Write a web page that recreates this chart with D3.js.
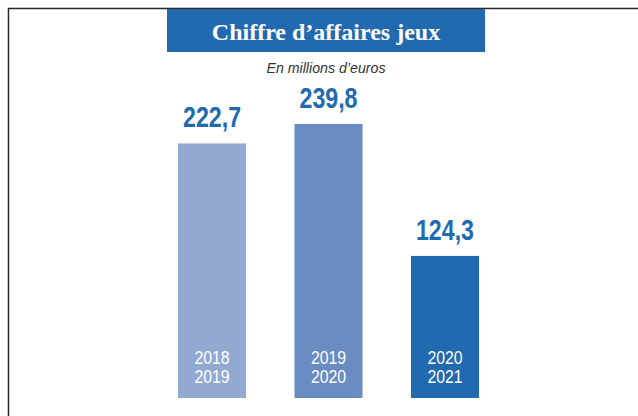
<!DOCTYPE html>
<html>
<head>
<meta charset="utf-8">
<script src="https://cdn.jsdelivr.net/npm/d3@7"></script>
<style>
  body { margin: 0; background: #fff; }
  svg { display: block; }
</style>
</head>
<body>
<div id="chart"></div>
<script>
// données du graphique
const seasons = ["2018-2019", "2019-2020", "2020-2021"];
const seasonLines = [["2018", "2019"], ["2019", "2020"], ["2020", "2021"]];
const revenue = [222.7, 239.8, 124.3];
const valueLabels = ["222,7", "239,8", "124,3"];
const barColors = ["#92aad2", "#6b8cc2", "#226aaf"];

const width = 638, height = 416;
const blue = "#226aaf";
const sans = "'Liberation Sans', Arial, sans-serif";

const svg = d3.select("#chart").append("svg")
    .attr("width", width)
    .attr("height", height);

// texte "condensé" : on écrase horizontalement
function condensed(parent, cx, cy, sx) {
    return parent.append("text")
        .attr("transform", `translate(${cx},${cy}) scale(${sx},1)`)
        .attr("text-anchor", "middle")
        .attr("font-family", sans);
}

// cadre (haut + gauche)
svg.append("path")
    .attr("d", "M8.5,416 V8.5 H638")
    .attr("fill", "none")
    .attr("stroke", "#2a2a2a")
    .attr("stroke-width", 1.5);

// bandeau titre
svg.append("rect")
    .attr("x", 167).attr("y", 9)
    .attr("width", 318).attr("height", 43)
    .attr("fill", blue);

svg.append("text")
    .attr("x", 326).attr("y", 40)
    .attr("text-anchor", "middle")
    .attr("fill", "#fff")
    .attr("font-family", "'Liberation Serif', 'DejaVu Serif', serif")
    .attr("font-weight", "bold")
    .attr("font-size", 24)
    .text("Chiffre d’affaires jeux");

condensed(svg, 326, 73, 0.98)
    .attr("fill", "#333")
    .attr("font-style", "italic")
    .attr("font-size", 14.5)
    .text("En millions d’euros");

// échelles
const x = d3.scaleBand()
    .domain(seasons)
    .range([178, 479])
    .paddingInner(0.416)
    .paddingOuter(0);

const y = d3.scaleLinear()
    .domain([0, 250])
    .range([398, 112.25]);

const groups = svg.selectAll(".bar")
    .data(seasons)
    .enter()
    .append("g")
    .attr("class", "bar");

groups.append("rect")
    .attr("x", d => x(d))
    .attr("y", (d, i) => y(revenue[i]))
    .attr("width", x.bandwidth())
    .attr("height", (d, i) => y(0) - y(revenue[i]))
    .attr("fill", (d, i) => barColors[i]);

groups.each(function(d, i) {
    const g = d3.select(this);
    const cx = x(d) + x.bandwidth() / 2;

    // valeur au-dessus de la barre
    condensed(g, cx, y(revenue[i]) - 16, 0.8)
        .attr("fill", blue)
        .attr("font-weight", "bold")
        .attr("font-size", 29)
        .text(valueLabels[i]);

    // saison dans la barre
    seasonLines[i].forEach((line, k) => {
        condensed(g, cx, 364 + k * 19, 0.88)
            .attr("fill", "#fff")
            .attr("font-size", 18)
            .attr("font-weight", 500)
            .text(line);
    });
});
</script>
</body>
</html>
